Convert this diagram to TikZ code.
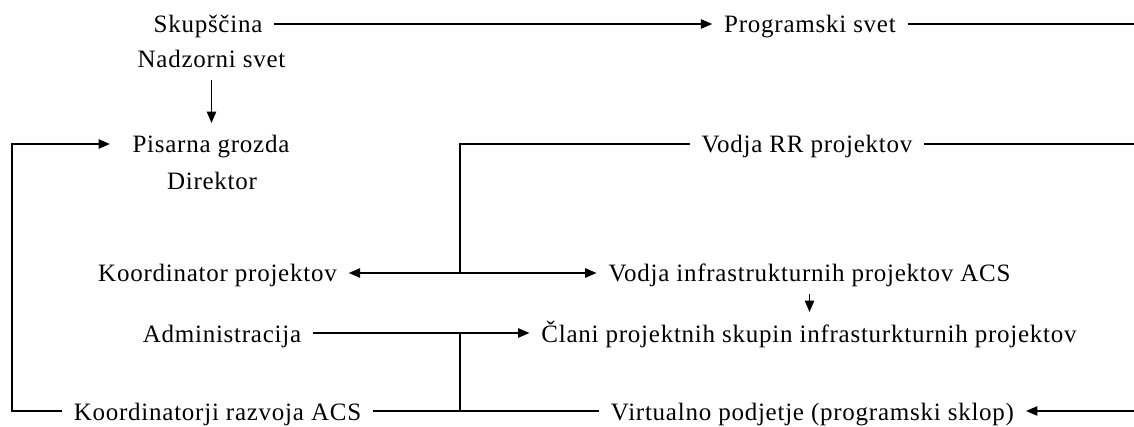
\documentclass[tikz,border=0pt]{standalone}
\usepackage{fontspec}
\setmainfont{Liberation Serif}[LetterSpace=3]
\usetikzlibrary{arrows.meta}

\begin{document}
\begin{tikzpicture}[x=0.75pt, y=-0.75pt,
    every node/.style={font=\fontsize{18.75}{22}\selectfont},
    lbl/.style={anchor=base, inner sep=0pt, outer sep=9pt,
                text height=13.5pt, text depth=0pt},
    every path/.style={line width=1.1pt},
    >={Triangle[length=8.5pt,width=7pt]}]
  \useasboundingbox (0,0) rectangle (1134,427);
  % column coordinates
  \coordinate (lft) at (12,0);
  \coordinate (spine) at (460,0);
  \coordinate (rgt) at (1134,0);
  % left column
  \node[lbl] (skup)  at (208,33)    {Skupščina};
  \node[lbl] (nadz)  at (211.5,68)  {Nadzorni svet};
  \node[lbl] (pisa)  at (211,153)   {Pisarna grozda};
  \node[lbl] (dir)   at (212,190)   {Direktor};
  \node[lbl] (koord) at (217.5,282) {Koordinator projektov};
  \node[lbl] (admin) at (222,342)   {Administracija};
  \node[lbl] (kraz)  at (217.5,420) {Koordinatorji razvoja ACS};
  % right column
  \node[lbl] (prog)  at (810,33)    {Programski svet};
  \node[lbl] (vrr)   at (807,153)   {Vodja RR projektov};
  \node[lbl] (vinf)  at (809.5,282) {Vodja infrastrukturnih projektov ACS};
  \node[lbl] (clani) at (809,342)   {Člani projektnih skupin infrasturkturnih projektov};
  \node[lbl] (virt)  at (812.5,420) {Virtualno podjetje (programski sklop)};
  % top row
  \draw[->] (skup.east) -- (prog.west);
  \draw (prog.east) -- (prog.east -| rgt);
  \draw[->] (nadz.south) -- (nadz.south |- pisa.north);
  % loop back to the office
  \draw[->, shorten >=8pt] (kraz.west) -| (lft |- pisa.west) -- (pisa.west);
  % project leaders
  \draw (vrr.west) -| (spine |- koord.east);
  \draw (vrr.east) -- (vrr.east -| rgt);
  \draw[<->] (koord.east) -- (vinf.west);
  \draw[->] (vinf.south) -- (vinf.south |- clani.north);
  % members and virtual company
  \draw[->] (admin.east) -- (clani.west);
  \draw (spine |- admin.east) -- (spine |- kraz.east);
  \draw (kraz.east) -- (virt.west);
  \draw[<-] (virt.east) -- (virt.east -| rgt);
\end{tikzpicture}
\end{document}
